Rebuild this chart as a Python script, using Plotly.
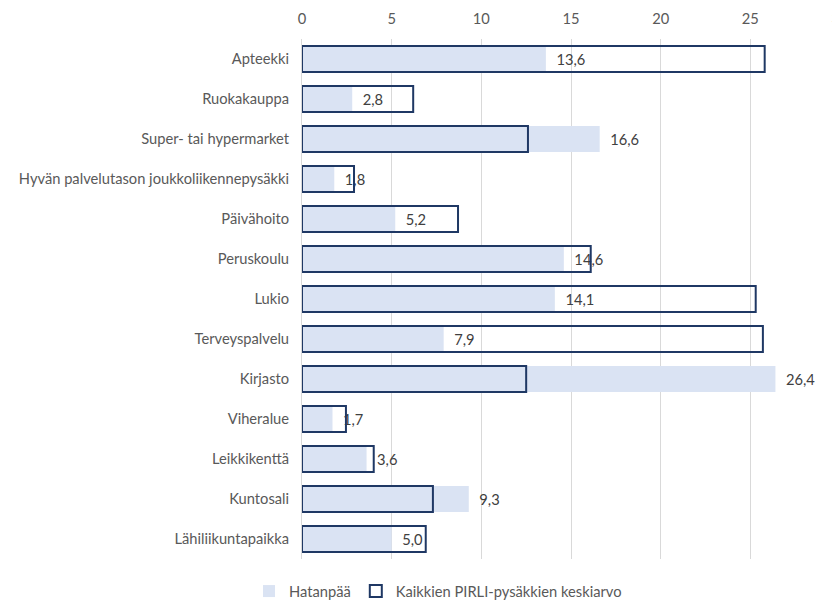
import plotly.graph_objects as go

categories = ["Apteekki", "Ruokakauppa", "Super- tai hypermarket",
              "Hyvän palvelutason joukkoliikennepysäkki", "Päivähoito",
              "Peruskoulu", "Lukio", "Terveyspalvelu", "Kirjasto", "Viheralue",
              "Leikkikenttä", "Kuntosali", "Lähiliikuntapaikka"]
hatanpaa = [13.6, 2.8, 16.6, 1.8, 5.2, 14.6, 14.1, 7.9, 26.4, 1.7, 3.6, 9.3, 5.0]
keskiarvo = [25.8, 6.2, 12.6, 2.9, 8.7, 16.1, 25.3, 25.7, 12.5, 2.45, 4.0, 7.3, 6.9]
x_ticks = [0, 5, 10, 15, 20, 25, 30]

FONT = "Lato, 'Open Sans', Arial, sans-serif"
FS = 14.7

# page has an 8px body offset; figure coords = page coords - 8
FW, FH = 832, 592
L, R_EDGE, T, B = 294, 832, 31, 551
W_PLOT = R_EDGE - L

fig = go.Figure()
fig.add_trace(go.Bar(
    y=categories, x=hatanpaa, orientation="h", name="Hatanpää",
    marker=dict(color="#DAE3F3", line=dict(width=0)),
    texttemplate="\u00a0\u00a0%{x:.1f}", textposition="outside", cliponaxis=False,
    textfont=dict(family=FONT, size=FS, color="#404040"),
))
fig.add_trace(go.Bar(
    y=categories, x=keskiarvo, orientation="h",
    name="Kaikkien PIRLI-pysäkkien keskiarvo",
    marker=dict(color="rgba(255,255,255,0)", line=dict(color="#1F3864", width=2)),
    hoverinfo="x+y",
))

fig.update_layout(
    width=FW, height=FH,
    barmode="overlay", bargap=0.35,
    separators=", ",
    paper_bgcolor="white", plot_bgcolor="white",
    margin=dict(l=L, r=FW - R_EDGE, t=T, b=FH - B, autoexpand=False),
    font=dict(family=FONT, size=FS, color="#595959"),
    showlegend=True,
    legend=dict(orientation="h", xref="container", x=430 / FW, xanchor="center",
                yref="container", y=(FH - 567) / FH, yanchor="top",
                font=dict(family=FONT, size=FS, color="#595959"),
                itemwidth=30, traceorder="normal"),
    xaxis=dict(side="top", range=[0, 30], tickvals=x_ticks,
               showgrid=True, gridcolor="#D9D9D9", gridwidth=1,
               zeroline=False, showline=False, ticks="",
               ticklabelstandoff=11, ticklabeloverflow="allow",
               tickfont=dict(size=FS, color="#595959")),
    yaxis=dict(autorange="reversed", showgrid=False, zeroline=False,
               showline=True, linecolor="#D9D9D9", ticks="",
               ticklabelstandoff=9,
               tickfont=dict(size=FS, color="#595959")),
)

fig.write_html("out.html")
